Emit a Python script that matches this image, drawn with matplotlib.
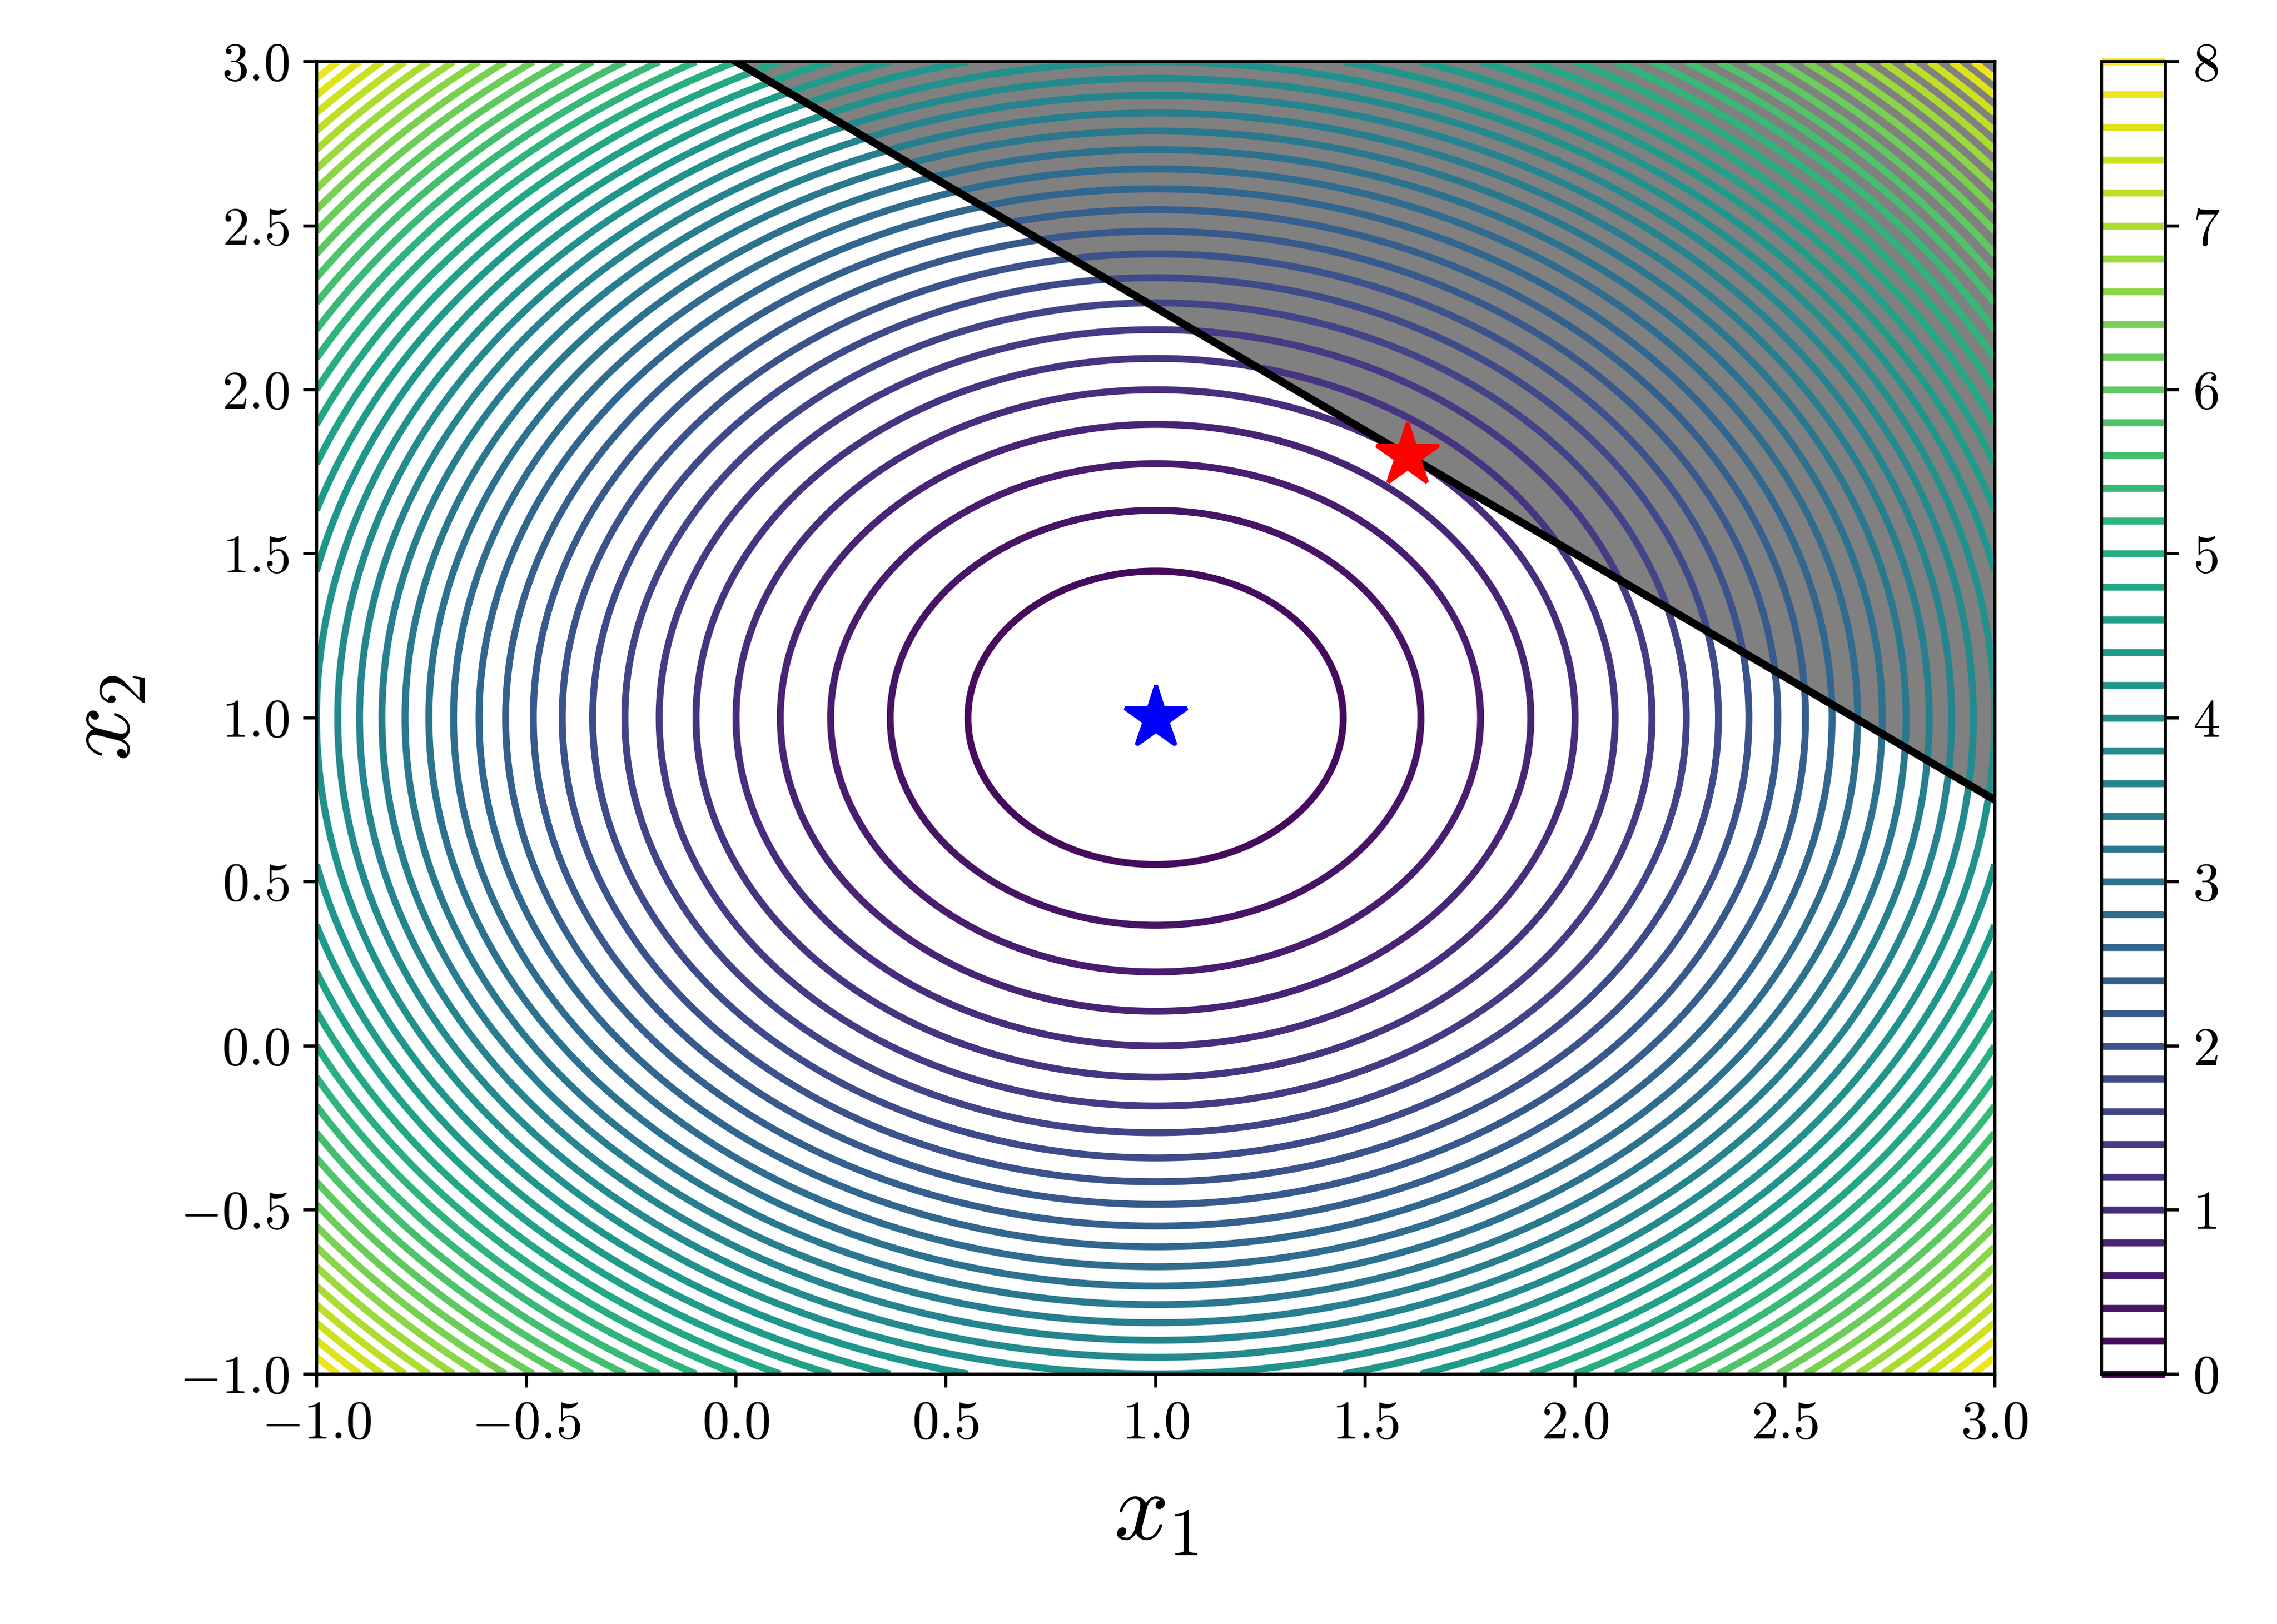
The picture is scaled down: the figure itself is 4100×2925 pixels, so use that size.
import numpy as np
import matplotlib
matplotlib.use("Agg")
import matplotlib.pyplot as plt

plt.rcParams['font.family'] = 'serif'
plt.rcParams['font.serif'] = ['cmr10']
plt.rcParams['mathtext.fontset'] = 'cm'
plt.rcParams['axes.formatter.use_mathtext'] = True

# objective centre and levels
center = [1.0, 1.0]
levels = np.linspace(0, 8, 41)
# constraint 3*x1 + 4*x2 >= 12
line_x = [0.0, 3.0]
line_y = [3.0, 0.75]
opt_point = [1.6, 1.8]

x1 = np.linspace(-1, 3, 400)
x2 = np.linspace(-1, 3, 400)
X1, X2 = np.meshgrid(x1, x2)
F = (X1 - center[0])**2 + (X2 - center[1])**2

fig = plt.figure(figsize=(8.2, 5.85), dpi=500)
ax = fig.add_axes([0.139, 0.154, 0.737, 0.808])
cax = fig.add_axes([0.923, 0.154, 0.028, 0.808])
ax.fill_between(line_x, line_y, 3, color='gray', zorder=0, linewidth=0)
cs = ax.contour(X1, X2, F, levels=levels, cmap='viridis', linewidths=1.8, zorder=1)
cb = fig.colorbar(cs, cax=cax)
cb.ax.tick_params(labelsize=14)

ax.plot(line_x, line_y, color='k', lw=2, zorder=4)
ax.plot(center[0], center[1], marker='*', color='blue', ms=17, zorder=5)
ax.plot(opt_point[0], opt_point[1], marker='*', color='red', ms=17, zorder=5)

ax.set_xlim(-1, 3)
ax.set_ylim(-1, 3)
ax.tick_params(labelsize=14)
ax.set_xlabel(r'$x_1$', fontsize=25, labelpad=6)
ax.set_ylabel(r'$x_2$', fontsize=25, labelpad=8)

plt.savefig('out.png', dpi=500)
